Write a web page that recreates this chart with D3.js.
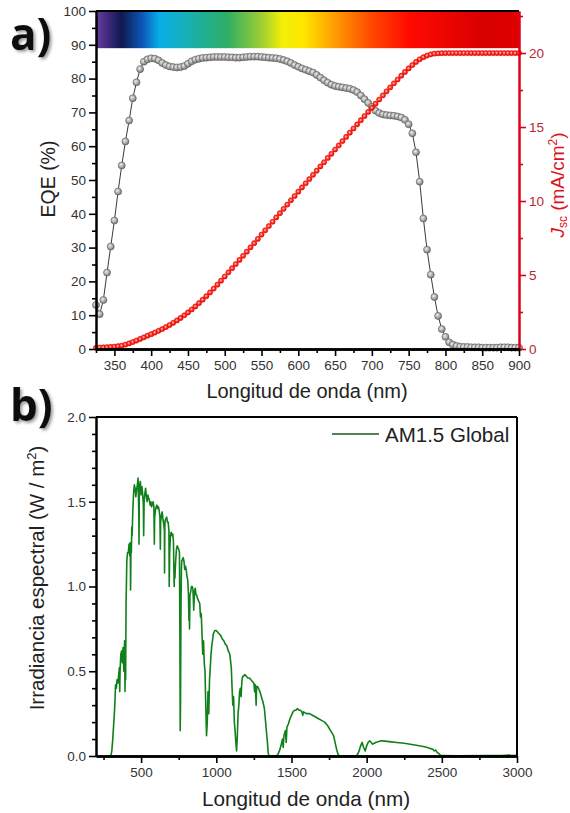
<!DOCTYPE html>
<html>
<head>
<meta charset="utf-8">
<script src="https://cdn.jsdelivr.net/npm/d3@7"></script>
<style>
body { margin: 0; background: #fff; }
svg { display: block; font-family: "Liberation Sans", Arial, sans-serif; }
.panel-tag { font-family: "Open Sans", sans-serif; font-weight: 700; font-size: 44px; fill: #111; }
.axis-label { fill: #222; }
</style>
</head>
<body>
<div id="chart"></div>
<script>
// panel a: EQE and integrated Jsc, 5 nm steps
var wavelengths = [
  325, 330, 335, 340, 345, 350, 355, 360, 365, 370, 375, 380, 385, 390, 395, 400,
  405, 410, 415, 420, 425, 430, 435, 440, 445, 450, 455, 460, 465, 470, 475, 480,
  485, 490, 495, 500, 505, 510, 515, 520, 525, 530, 535, 540, 545, 550, 555, 560,
  565, 570, 575, 580, 585, 590, 595, 600, 605, 610, 615, 620, 625, 630, 635, 640,
  645, 650, 655, 660, 665, 670, 675, 680, 685, 690, 695, 700, 705, 710, 715, 720,
  725, 730, 735, 740, 745, 750, 755, 760, 765, 770, 775, 780, 785, 790, 795, 800,
  805, 810, 815, 820, 825, 830, 835, 840, 845, 850, 855, 860, 865, 870, 875, 880,
  885, 890, 895, 900];

var eqe = [
  13.0, 10.3, 14.5, 22.6, 30.3, 38.0, 46.6, 54.3, 61.4, 67.6, 74.2, 78.9, 82.8, 85.0, 85.7, 86.0,
  85.9, 85.4, 84.6, 84.0, 83.6, 83.4, 83.3, 83.4, 83.7, 84.4, 85.1, 85.6, 85.9, 86.1, 86.2, 86.3,
  86.4, 86.4, 86.4, 86.4, 86.3, 86.3, 86.2, 86.2, 86.3, 86.4, 86.5, 86.5, 86.5, 86.4, 86.3, 86.2,
  86.1, 86.0, 85.8, 85.5, 85.1, 84.6, 84.0, 83.5, 83.0, 82.6, 82.2, 81.8, 81.1, 80.3, 79.5, 78.8,
  78.2, 77.8, 77.6, 77.4, 77.2, 77.0, 76.6, 76.0, 75.0, 73.9, 72.8, 71.6, 70.5, 69.8, 69.4, 69.2,
  69.1, 69.0, 68.8, 68.5, 67.8, 66.5, 63.8, 58.2, 49.5, 38.6, 29.4, 22.0, 15.4, 9.8, 5.9, 3.6,
  2.0, 1.3, 0.9, 0.7, 0.6, 0.6, 0.5, 0.5, 0.5, 0.4, 0.4, 0.4, 0.4, 0.4, 0.5, 0.5,
  0.5, 0.4, 0.4, 0.4];

var jsc = [
  0.08, 0.10, 0.11, 0.12, 0.14, 0.16, 0.19, 0.23, 0.30, 0.38, 0.47, 0.57, 0.68, 0.79, 0.90, 1.00,
  1.11, 1.23, 1.35, 1.48, 1.62, 1.77, 1.93, 2.10, 2.28, 2.47, 2.67, 2.88, 3.10, 3.33, 3.57, 3.82,
  4.08, 4.35, 4.62, 4.90, 5.18, 5.46, 5.74, 6.02, 6.30, 6.58, 6.87, 7.15, 7.44, 7.73, 8.02, 8.31,
  8.60, 8.89, 9.18, 9.47, 9.76, 10.05, 10.34, 10.63, 10.92, 11.20, 11.48, 11.77, 12.05, 12.34, 12.62, 12.91,
  13.19, 13.48, 13.76, 14.05, 14.33, 14.62, 14.90, 15.18, 15.46, 15.74, 16.02, 16.30, 16.58, 16.86, 17.14, 17.41,
  17.68, 17.95, 18.21, 18.47, 18.72, 18.96, 19.19, 19.40, 19.58, 19.72, 19.83, 19.91, 19.96, 19.98, 19.99, 20.0,
  20.0, 20.0, 20.0, 20.0, 20.0, 20.0, 20.0, 20.0, 20.0, 20.0, 20.0, 20.0, 20.0, 20.0, 20.0, 20.0,
  20.0, 20.0, 20.0, 20.0];

// panel b: AM1.5 Global spectrum
var specWl = [
  280, 295, 300, 305, 310, 315, 320, 325, 330, 335, 340, 345, 350, 355, 358, 360, 365, 370, 375, 380,
  385, 390, 393, 395, 397, 400, 403, 405, 410, 415, 420, 425, 428, 430, 433, 435, 438, 440, 445, 450,
  455, 460, 465, 470, 475, 480, 485, 486, 488, 490, 495, 500, 505, 510, 515, 517, 520, 525, 530, 535,
  540, 545, 550, 555, 560, 565, 570, 575, 580, 585, 588, 590, 595, 600, 605, 610, 615, 620, 625, 628,
  630, 635, 640, 645, 650, 655, 656, 658, 660, 665, 670, 675, 680, 685, 687, 690, 695, 700, 705, 710,
  715, 720, 722, 725, 728, 730, 735, 740, 745, 750, 755, 758, 760, 762, 765, 768, 770, 775, 780, 785,
  790, 795, 800, 805, 810, 815, 818, 820, 822, 825, 830, 835, 840, 845, 850, 855, 860, 865, 870, 875,
  880, 885, 890, 895, 900, 905, 910, 915, 920, 925, 930, 935, 940, 945, 950, 955, 960, 965, 970, 975,
  980, 990, 1000, 1010, 1020, 1030, 1040, 1050, 1060, 1070, 1080, 1090, 1100, 1105, 1110, 1115, 1120, 1125, 1130, 1135,
  1140, 1145, 1150, 1155, 1160, 1165, 1170, 1175, 1180, 1190, 1200, 1210, 1220, 1230, 1240, 1250, 1255, 1260, 1265, 1268,
  1275, 1280, 1290, 1300, 1310, 1320, 1330, 1340, 1345, 1350, 1400, 1410, 1420, 1430, 1440, 1445, 1450, 1460, 1465, 1470,
  1480, 1490, 1500, 1510, 1520, 1530, 1540, 1550, 1560, 1570, 1575, 1580, 1600, 1620, 1640, 1660, 1680, 1700, 1720, 1740,
  1760, 1780, 1790, 1800, 1810, 1820, 1930, 1940, 1950, 1960, 1970, 1980, 1990, 2000, 2010, 2020, 2030, 2040, 2060, 2080,
  2100, 2120, 2150, 2200, 2250, 2300, 2350, 2400, 2420, 2440, 2450, 2460, 2470, 2480, 2490, 2500, 2600, 2800, 2900, 2950,
  2960, 3000];

var specVal = [
  0, 0, 0.005, 0.03, 0.08, 0.15, 0.22, 0.30, 0.42, 0.40, 0.45, 0.43, 0.47, 0.52, 0.38, 0.50, 0.60, 0.62, 0.55, 0.64,
  0.50, 0.68, 0.38, 0.65, 0.45, 0.90, 1.05, 1.15, 1.20, 1.20, 1.25, 1.18, 1.26, 0.98, 1.25, 1.20, 1.35, 1.30, 1.45, 1.55,
  1.60, 1.58, 1.53, 1.57, 1.60, 1.64, 1.40, 1.25, 1.55, 1.60, 1.62, 1.54, 1.59, 1.55, 1.48, 1.30, 1.50, 1.55, 1.58, 1.53,
  1.50, 1.54, 1.52, 1.51, 1.48, 1.50, 1.47, 1.49, 1.50, 1.47, 1.25, 1.40, 1.45, 1.47, 1.48, 1.46, 1.47, 1.45, 1.41, 1.22,
  1.38, 1.42, 1.44, 1.40, 1.37, 1.33, 1.08, 1.36, 1.39, 1.40, 1.41, 1.38, 1.38, 1.33, 1.00, 1.20, 1.30, 1.32, 1.30, 1.31,
  1.27, 1.00, 1.10, 1.05, 1.12, 1.15, 1.22, 1.24, 1.23, 1.22, 1.20, 0.70, 0.15, 0.30, 0.85, 1.10, 1.15, 1.16, 1.17, 1.15,
  1.10, 1.12, 1.10, 1.06, 1.04, 0.95, 0.80, 0.88, 0.75, 0.95, 0.97, 1.00, 1.00, 0.98, 0.86, 0.97, 0.99, 0.95, 0.95, 0.93,
  0.92, 0.91, 0.90, 0.82, 0.84, 0.72, 0.60, 0.68, 0.55, 0.50, 0.30, 0.12, 0.20, 0.38, 0.25, 0.45, 0.52, 0.60, 0.65, 0.68,
  0.72, 0.74, 0.74, 0.73, 0.72, 0.71, 0.69, 0.68, 0.66, 0.65, 0.62, 0.60, 0.52, 0.40, 0.30, 0.35, 0.20, 0.15, 0.08, 0.03,
  0.12, 0.25, 0.30, 0.38, 0.40, 0.35, 0.44, 0.47, 0.47, 0.48, 0.47, 0.46, 0.46, 0.45, 0.44, 0.43, 0.38, 0.42, 0.30, 0.41,
  0.41, 0.40, 0.38, 0.35, 0.32, 0.28, 0.18, 0.08, 0.02, 0, 0, 0.01, 0.03, 0.06, 0.10, 0.05, 0.12, 0.15, 0.08, 0.17,
  0.19, 0.22, 0.24, 0.26, 0.27, 0.27, 0.28, 0.27, 0.27, 0.26, 0.24, 0.26, 0.25, 0.25, 0.24, 0.23, 0.22, 0.21, 0.20, 0.18,
  0.15, 0.12, 0.08, 0.04, 0.01, 0, 0, 0.01, 0.03, 0.06, 0.08, 0.05, 0.03, 0.06, 0.08, 0.09, 0.08, 0.07, 0.08, 0.085,
  0.09, 0.088, 0.085, 0.08, 0.075, 0.068, 0.06, 0.052, 0.045, 0.04, 0.03, 0.035, 0.02, 0.015, 0.005, 0.002, 0.001, 0.002, 0.003, 0.006,
  0.002, 0.004];

// visible-spectrum strip across the top of panel a
var stripStops = [
  [0.00, "#6b3fa0"], [0.02, "#4a2f8a"], [0.06, "#10184e"], [0.11, "#0d58b8"], [0.15, "#08aeea"],
  [0.22, "#18b0b0"], [0.31, "#2eae66"], [0.39, "#9ccc34"], [0.44, "#f2ef08"], [0.49, "#ffe600"],
  [0.56, "#ffa000"], [0.65, "#ff4a00"], [0.74, "#ff0a00"], [0.92, "#d80000"], [1.00, "#e00000"]];

var svg = d3.select("#chart").append("svg")
  .attr("width", 570)
  .attr("height", 813);

var defs = svg.append("defs");

var grad = defs.append("linearGradient").attr("id", "strip");
grad.selectAll("stop")
  .data(stripStops)
  .enter().append("stop")
    .attr("offset", function(d) { return d[0]; })
    .attr("stop-color", function(d) { return d[1]; });

var ball = defs.append("radialGradient").attr("id", "ball")
  .attr("cx", "40%").attr("cy", "38%").attr("r", "65%");
ball.append("stop").attr("offset", 0).attr("stop-color", "#eeeeee");
ball.append("stop").attr("offset", 0.6).attr("stop-color", "#a4a4a4");
ball.append("stop").attr("offset", 1).attr("stop-color", "#707070");

var redBall = defs.append("radialGradient").attr("id", "redball")
  .attr("cx", "45%").attr("cy", "45%").attr("r", "60%");
redBall.append("stop").attr("offset", 0).attr("stop-color", "#ffd6c8");
redBall.append("stop").attr("offset", 0.45).attr("stop-color", "#ff3a2a");
redBall.append("stop").attr("offset", 1).attr("stop-color", "#e00000");

var shadow = defs.append("filter").attr("id", "shadow")
  .attr("x", "-20%").attr("y", "-20%").attr("width", "150%").attr("height", "150%");
shadow.append("feDropShadow")
  .attr("dx", 2).attr("dy", 2).attr("stdDeviation", 1.6)
  .attr("flood-color", "#777").attr("flood-opacity", 0.7);

function styleAxis(g, color, width) {
  g.select(".domain").attr("stroke", color).attr("stroke-width", width);
  g.selectAll(".tick line").attr("stroke", color).attr("stroke-width", 1.6);
  g.selectAll(".tick text")
    .attr("font-family", "'Liberation Sans', Arial, sans-serif")
    .attr("font-size", 13.5);
}

// ---------- panel a ----------
var xA = d3.scaleLinear().domain([325, 900]).range([96, 519]);
var yA = d3.scaleLinear().domain([0, 100]).range([349, 11]);
var yJ = d3.scaleLinear().domain([0, 22.84]).range([349, 11]);

svg.append("rect")
  .attr("x", xA(325)).attr("y", yA(100))
  .attr("width", xA(900) - xA(325))
  .attr("height", yA(89) - yA(100))
  .attr("fill", "url(#strip)");

svg.append("line")
  .attr("x1", xA(325)).attr("x2", xA(900))
  .attr("y1", yA(100)).attr("y2", yA(100))
  .attr("stroke", "#000").attr("stroke-width", 2);

var eqeLine = d3.line()
  .x(function(d, i) { return xA(wavelengths[i]); })
  .y(function(d) { return yA(d); });

svg.append("path")
  .datum(eqe)
  .attr("fill", "none")
  .attr("stroke", "#3a3a3a")
  .attr("stroke-width", 1)
  .attr("d", eqeLine);

svg.append("g").selectAll("circle")
  .data(eqe)
  .enter().append("circle")
    .attr("cx", function(d, i) { return xA(wavelengths[i]); })
    .attr("cy", function(d) { return yA(d); })
    .attr("r", 3.5)
    .attr("fill", "url(#ball)")
    .attr("stroke", "#5a5a5a")
    .attr("stroke-width", 0.6);

svg.append("g").selectAll("circle")
  .data(jsc)
  .enter().append("circle")
    .attr("cx", function(d, i) { return xA(wavelengths[i]); })
    .attr("cy", function(d) { return yJ(d); })
    .attr("r", 2.6)
    .attr("fill", "url(#redball)")
    .attr("stroke", "#e00000")
    .attr("stroke-width", 0.5);

// left axis
svg.append("g")
  .attr("transform", "translate(96,0)")
  .call(d3.axisLeft(yA).tickValues(d3.range(5, 100, 10)).tickSize(4).tickSizeOuter(0).tickFormat(""))
  .call(styleAxis, "#000", 2);
svg.append("g")
  .attr("transform", "translate(96,0)")
  .call(d3.axisLeft(yA).tickValues(d3.range(0, 101, 10)).tickSize(7).tickPadding(3).tickSizeOuter(0))
  .call(styleAxis, "#000", 2)
  .selectAll(".tick text").attr("fill", "#333");

// right axis
svg.append("g")
  .attr("transform", "translate(519,0)")
  .call(d3.axisRight(yJ).tickValues([2.5, 7.5, 12.5, 17.5, 22.5]).tickSize(4).tickSizeOuter(0).tickFormat(""))
  .call(styleAxis, "#e0001a", 2);
svg.append("g")
  .attr("transform", "translate(519,0)")
  .call(d3.axisRight(yJ).tickValues([0, 5, 10, 15, 20]).tickSize(7).tickPadding(3).tickSizeOuter(0))
  .call(styleAxis, "#e0001a", 2)
  .selectAll(".tick text").attr("fill", "#b8262e");

// bottom axis
svg.append("g")
  .attr("transform", "translate(0,349)")
  .call(d3.axisBottom(xA).tickValues(d3.range(325, 901, 50)).tickSize(4).tickSizeOuter(0).tickFormat(""))
  .call(styleAxis, "#000", 2.4);
svg.append("g")
  .attr("transform", "translate(0,349)")
  .call(d3.axisBottom(xA).tickValues(d3.range(350, 901, 50)).tickSize(7).tickPadding(4).tickSizeOuter(0))
  .call(styleAxis, "#000", 2.4)
  .selectAll(".tick text").attr("fill", "#333");

svg.append("text")
  .attr("class", "axis-label")
  .attr("transform", "translate(55,179) rotate(-90)")
  .attr("text-anchor", "middle")
  .style("font-size", "19.5px")
  .text("EQE (%)");

var jLabel = svg.append("text")
  .attr("transform", "translate(564,185) rotate(-90)")
  .attr("text-anchor", "middle")
  .style("font-size", "19px")
  .attr("fill", "#e0101a");
jLabel.append("tspan").attr("font-style", "italic").text("J");
jLabel.append("tspan").style("font-size", "12px").attr("dy", 3).text("sc");
jLabel.append("tspan").attr("dy", -3).text(" (mA/cm");
jLabel.append("tspan").style("font-size", "12px").attr("dy", -7).text("2");
jLabel.append("tspan").attr("dy", 7).text(")");

svg.append("text")
  .attr("class", "axis-label")
  .attr("x", 307).attr("y", 398)
  .attr("text-anchor", "middle")
  .style("font-size", "20px")
  .text("Longitud de onda (nm)");

svg.append("text")
  .attr("class", "panel-tag")
  .attr("x", 10).attr("y", 50)
  .attr("filter", "url(#shadow)")
  .text("a)");

// ---------- panel b ----------
var xB = d3.scaleLinear().domain([200, 3000]).range([96, 517]);
var yB = d3.scaleLinear().domain([0, 2]).range([756, 417]);

var specLine = d3.line()
  .x(function(d, i) { return xB(specWl[i]); })
  .y(function(d) { return yB(d); });

svg.append("path")
  .datum(specVal)
  .attr("fill", "none")
  .attr("stroke", "#10801a")
  .attr("stroke-width", 1.6)
  .attr("stroke-linejoin", "round")
  .attr("d", specLine);

svg.append("line")
  .attr("x1", xB(200)).attr("x2", xB(3000))
  .attr("y1", yB(2)).attr("y2", yB(2))
  .attr("stroke", "#000").attr("stroke-width", 2);
svg.append("line")
  .attr("x1", xB(3000)).attr("x2", xB(3000))
  .attr("y1", yB(2)).attr("y2", yB(0))
  .attr("stroke", "#000").attr("stroke-width", 2);

svg.append("g")
  .attr("transform", "translate(96,0)")
  .call(d3.axisLeft(yB).tickValues(d3.range(0.1, 2, 0.1).filter(function(v) { return Math.round(v * 10) % 5 !== 0; }))
    .tickSize(4).tickSizeOuter(0).tickFormat(""))
  .call(styleAxis, "#000", 2);
svg.append("g")
  .attr("transform", "translate(96,0)")
  .call(d3.axisLeft(yB).tickValues([0, 0.5, 1, 1.5, 2]).tickSize(7).tickPadding(3).tickSizeOuter(0).tickFormat(d3.format(".1f")))
  .call(styleAxis, "#000", 2)
  .selectAll(".tick text").attr("fill", "#333");

svg.append("g")
  .attr("transform", "translate(0,756)")
  .call(d3.axisBottom(xB).tickValues(d3.range(250, 3000, 500)).tickSize(4).tickSizeOuter(0).tickFormat(""))
  .call(styleAxis, "#000", 2.4);
svg.append("g")
  .attr("transform", "translate(0,756)")
  .call(d3.axisBottom(xB).tickValues(d3.range(500, 3001, 500)).tickSize(7).tickPadding(4).tickSizeOuter(0).tickFormat(d3.format("d")))
  .call(styleAxis, "#000", 2.4)
  .selectAll(".tick text").attr("fill", "#333");

var irrLabel = svg.append("text")
  .attr("class", "axis-label")
  .attr("transform", "translate(44,578) rotate(-90)")
  .attr("text-anchor", "middle")
  .style("font-size", "20.5px");
irrLabel.append("tspan").text("Irradiancia espectral (W / m");
irrLabel.append("tspan").style("font-size", "13px").attr("dy", -8).text("2");
irrLabel.append("tspan").attr("dy", 8).text(")");

svg.append("text")
  .attr("class", "axis-label")
  .attr("x", 306).attr("y", 806)
  .attr("text-anchor", "middle")
  .style("font-size", "20.7px")
  .text("Longitud de onda (nm)");

// legend
svg.append("line")
  .attr("x1", 332).attr("x2", 379)
  .attr("y1", 434).attr("y2", 434)
  .attr("stroke", "#1c5a1c").attr("stroke-width", 1.3);
svg.append("text")
  .attr("x", 385).attr("y", 442)
  .style("font-size", "20.5px")
  .attr("fill", "#222")
  .text("AM1.5 Global");

svg.append("text")
  .attr("class", "panel-tag")
  .attr("x", 10).attr("y", 421)
  .attr("filter", "url(#shadow)")
  .text("b)");
</script>
</body>
</html>
